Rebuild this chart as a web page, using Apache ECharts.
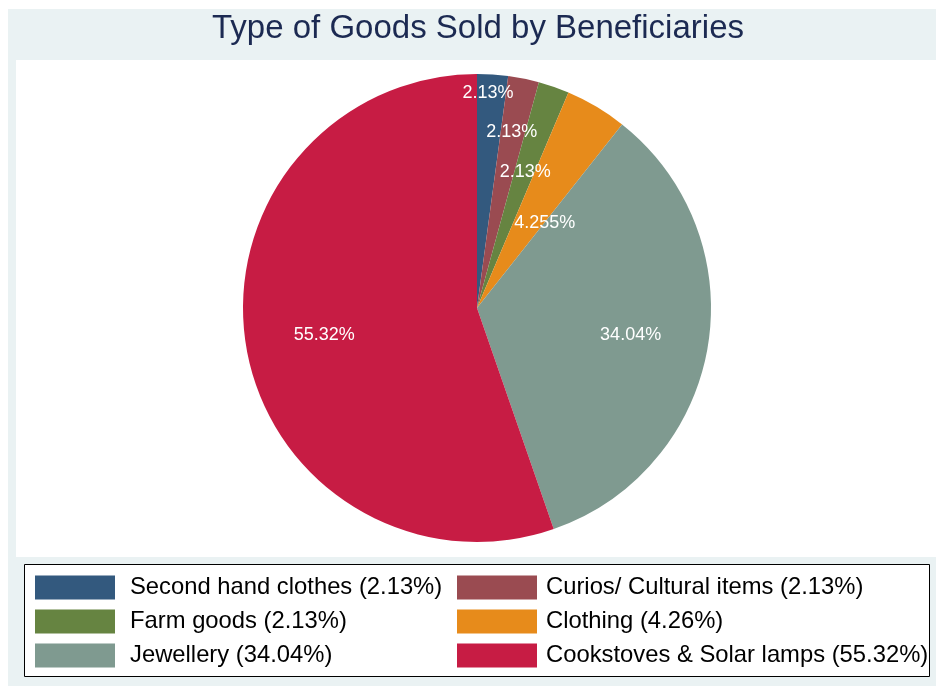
<!DOCTYPE html>
<html>
<head>
<meta charset="utf-8">
<title>Type of Goods Sold by Beneficiaries</title>
<script src="https://cdn.jsdelivr.net/npm/echarts@6/dist/echarts.min.js"></script>
<style>
  html, body { margin: 0; padding: 0; background: #ffffff; }
  #chart { width: 936px; height: 686px; }
</style>
</head>
<body>
<div id="chart"></div>
<script>
// Goods sold by beneficiaries, share of all sales (%)
const categories = [
  'Second hand clothes',
  'Curios/ Cultural items',
  'Farm goods',
  'Clothing',
  'Jewellery',
  'Cookstoves & Solar lamps'
];
const shares = [2.13, 2.13, 2.13, 4.255, 34.04, 55.32];
// rounded shares quoted in the key
const keyShares = ['2.13', '2.13', '2.13', '4.26', '34.04', '55.32'];

const sliceColors = ['#33597e', '#9a4b51', '#668441', '#e78b1b', '#7f9a90', '#c71c44'];

// pie geometry and where each slice label sits (distance from centre, angular nudge in degrees)
const pieCenter = [477, 308];
const pieRadius = 234;
const labelRadius = [215, 179, 144, 109, 156, 155];
const labelNudge = [-0.9, -0.3, 0.4, 7.8, 0.4, -0.4];

const total = shares.reduce((a, b) => a + b, 0);
const keyText = {};
categories.forEach((c, i) => { keyText[c] = c + ' (' + keyShares[i] + '%)'; });

const chart = echarts.init(document.getElementById('chart'), null, { renderer: 'canvas' });

const fontFamily = '"Liberation Sans", Arial, sans-serif';

function keyColumn(indices, left, textPad) {
  return {
    orient: 'vertical',
    left: left,
    top: 575,
    padding: 0,
    itemGap: 9,
    itemWidth: 80,
    itemHeight: 24,
    icon: 'rect',
    selectedMode: false,
    data: indices.map(i => categories[i]),
    formatter: name => keyText[name],
    itemStyle: { borderWidth: 0 },
    textStyle: {
      fontFamily: fontFamily,
      fontSize: 23.8,
      color: '#000000',
      lineHeight: 24,
      padding: [1, 0, 0, textPad]
    }
  };
}

chart.setOption({
  animation: false,
  color: sliceColors,
  graphic: [
    { type: 'rect', z: 0, silent: true,
      shape: { x: 8, y: 9, width: 928, height: 677 },
      style: { fill: '#eaf2f3' } },
    { type: 'rect', z: 0, silent: true,
      shape: { x: 16, y: 60, width: 920, height: 497 },
      style: { fill: '#ffffff' } },
    { type: 'rect', z: 0, silent: true,
      shape: { x: 24.5, y: 564.5, width: 905, height: 112 },
      style: { fill: '#ffffff', stroke: '#000000', lineWidth: 1 } },
    { type: 'text', z: 5, silent: true,
      x: 478, y: 29,
      style: {
        text: 'Type of Goods Sold by Beneficiaries',
        fill: '#1c2a52',
        font: '33px ' + fontFamily,
        align: 'center',
        verticalAlign: 'middle'
      } }
  ],
  legend: [
    keyColumn([0, 2, 4], 35, 10),
    keyColumn([1, 3, 5], 457, 4)
  ],
  series: [{
    type: 'pie',
    center: pieCenter,
    radius: pieRadius,
    startAngle: 90,
    clockwise: true,
    avoidLabelOverlap: false,
    itemStyle: { borderWidth: 0 },
    emphasis: { disabled: true },
    label: {
      show: true,
      position: 'inside',
      color: '#ffffff',
      fontFamily: fontFamily,
      fontSize: 18,
      formatter: p => p.value + '%'
    },
    labelLine: { show: false },
    labelLayout: function (p) {
      const i = p.dataIndex;
      let before = 0;
      for (let k = 0; k < i; k++) before += shares[k];
      const deg = (before + shares[i] / 2) / total * 360 + labelNudge[i];
      const rad = deg * Math.PI / 180;
      return {
        x: pieCenter[0] + labelRadius[i] * Math.sin(rad),
        y: pieCenter[1] - labelRadius[i] * Math.cos(rad),
        align: 'center',
        verticalAlign: 'middle'
      };
    },
    data: categories.map((c, i) => ({ name: c, value: shares[i] }))
  }]
});
</script>
</body>
</html>
